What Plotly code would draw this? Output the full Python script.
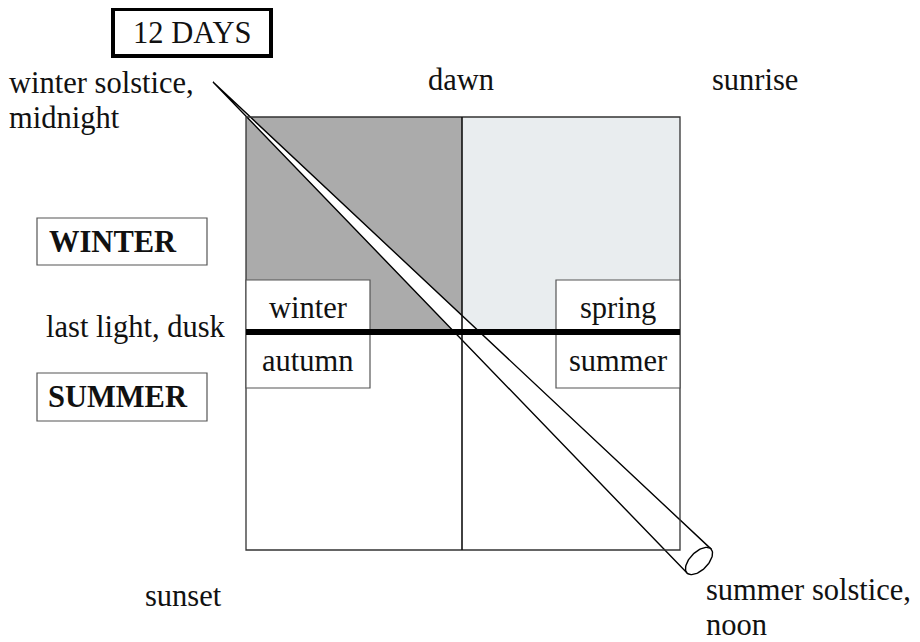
import numpy as np
import plotly.graph_objects as go

W, H = 920, 642
OFF = 8  # default page margin of the html body
FONT = "Liberation Serif"
FS = 30.5

# ---- content ----
title_label = "12 DAYS"
corner_labels = ["winter solstice,", "midnight", "dawn", "sunrise", "sunset", "summer solstice,", "noon"]
side_labels = ["WINTER", "last light, dusk", "SUMMER"]
season_labels = ["winter", "autumn", "spring", "summer"]
quadrant_fills = ["rgb(171,171,171)", "rgb(233,237,239)"]

# ---- layout geometry (pixels) ----
SQ = dict(x0=246, x1=680, y0=117, y1=550)
XMID, YMID = 462, 332

fig = go.Figure()
shapes = []
shapes.append(dict(type="rect", x0=SQ["x0"], x1=XMID, y0=SQ["y0"], y1=YMID,
                   fillcolor=quadrant_fills[0], line=dict(width=0), layer="below"))
shapes.append(dict(type="rect", x0=XMID, x1=SQ["x1"], y0=SQ["y0"], y1=YMID,
                   fillcolor=quadrant_fills[1], line=dict(width=0), layer="below"))
shapes.append(dict(type="rect", **SQ, line=dict(color="#333", width=1.3)))
shapes.append(dict(type="line", x0=XMID, x1=XMID, y0=SQ["y0"], y1=SQ["y1"],
                   line=dict(color="#111", width=1.6)))
shapes.append(dict(type="rect", x0=246, x1=370, y0=280, y1=388,
                   fillcolor="white", line=dict(color="#555", width=1.2)))
shapes.append(dict(type="rect", x0=556, x1=680, y0=280, y1=388,
                   fillcolor="white", line=dict(color="#555", width=1.2)))
shapes.append(dict(type="line", x0=SQ["x0"], x1=SQ["x1"], y0=YMID, y1=YMID,
                   line=dict(color="black", width=6)))
shapes.append(dict(type="rect", x0=37, x1=207, y0=218, y1=265,
                   fillcolor="white", line=dict(color="#555", width=1.2)))
shapes.append(dict(type="rect", x0=37, x1=207, y0=373, y1=421,
                   fillcolor="white", line=dict(color="#555", width=1.2)))
shapes.append(dict(type="rect", x0=113, x1=271, y0=9, y1=56,
                   fillcolor="white", line=dict(color="black", width=4)))

# beam (cone)
A = np.array([213.0, 82.0])
C = np.array([699.0, 561.0])
d = (C - A) / np.linalg.norm(C - A)
n = np.array([d[1], -d[0]])
w, b = 17.0, 9.0
P1, P2 = C + w * n, C - w * n
fig.add_trace(go.Scatter(x=[A[0], P1[0], P2[0], A[0]], y=[A[1], P1[1], P2[1], A[1]],
                         mode="lines", fill="toself", fillcolor="white",
                         line=dict(color="black", width=1.4), hoverinfo="skip"))
t = np.linspace(0, 2 * np.pi, 80)
E = C[None, :] + np.cos(t)[:, None] * w * n[None, :] + np.sin(t)[:, None] * b * d[None, :]
fig.add_trace(go.Scatter(x=E[:, 0], y=E[:, 1], mode="lines", fill="toself", fillcolor="white",
                         line=dict(color="black", width=1.4), hoverinfo="skip"))

ann = []
def T(text, x, y, xanchor="center", bold=False):
    ann.append(dict(text=f"<b>{text}</b>" if bold else text, x=x, y=y, xref="x", yref="y",
                    xanchor=xanchor, yanchor="middle", showarrow=False, align="left",
                    borderpad=0, borderwidth=0, font=dict(family=FONT, size=FS, color="#111")))

T(title_label, 192, 33)
T(corner_labels[0], 9, 83, xanchor="left")
T(corner_labels[1], 9, 118, xanchor="left")
T(corner_labels[2], 461, 80)
T(corner_labels[3], 755, 80)
T(corner_labels[4], 183, 596)
T(corner_labels[5], 706, 590, xanchor="left")
T(corner_labels[6], 706, 625, xanchor="left")
T(side_labels[0], 49, 242, xanchor="left", bold=True)
T(side_labels[1], 136, 327)
T(side_labels[2], 48, 397, xanchor="left", bold=True)
T(season_labels[0], 308, 308)
T(season_labels[1], 308, 361)
T(season_labels[2], 618, 308)
T(season_labels[3], 618, 361)

fig.update_layout(
    width=W - OFF, height=H - OFF, margin=dict(l=0, r=0, t=0, b=0),
    paper_bgcolor="white", plot_bgcolor="white", showlegend=False,
    xaxis=dict(range=[OFF, W], visible=False, fixedrange=True),
    yaxis=dict(range=[H, OFF], visible=False, fixedrange=True),
    shapes=shapes, annotations=ann,
)
fig.write_html("out.html", config={"displayModeBar": False})
